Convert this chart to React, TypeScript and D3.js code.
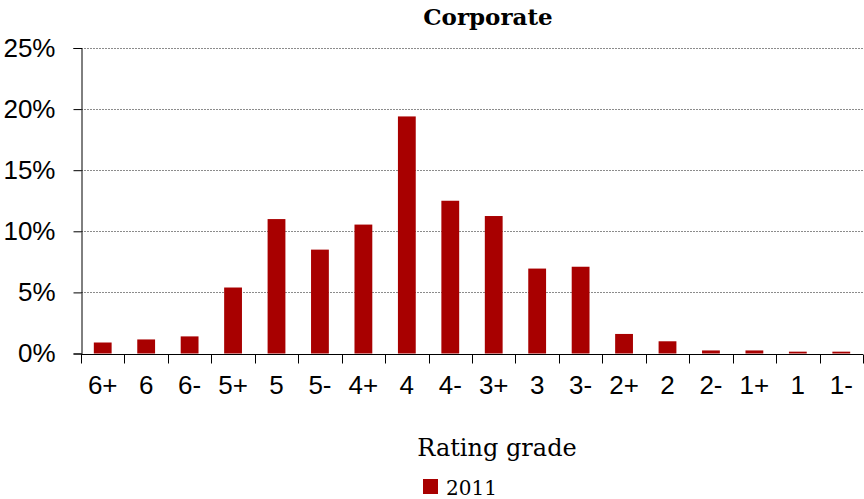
import React, { useRef, useEffect } from 'react';
import * as d3 from 'd3';

const grades = ['6+', '6', '6-', '5+', '5', '5-', '4+', '4', '4-', '3+', '3', '3-', '2+', '2', '2-', '1+', '1', '1-'];
const share2011 = [0.9, 1.15, 1.4, 5.4, 11.0, 8.5, 10.55, 19.4, 12.5, 11.25, 6.95, 7.1, 1.6, 1.0, 0.25, 0.25, 0.15, 0.15];
const yTicks = [0, 5, 10, 15, 20, 25];
const seriesName = '2011';

const App: React.FC = () => {
  const svgRef = useRef<SVGSVGElement | null>(null);

  useEffect(() => {
    const width = 864;
    const height = 499;
    const m = { left: 81, right: 1, top: 48, bottom: 145 };

    const svg = d3.select(svgRef.current!)
      .attr('width', width)
      .attr('height', height);
    svg.selectAll('*').remove();

    const x = d3.scaleBand<string>()
      .domain(grades)
      .range([m.left, width - m.right])
      .paddingInner(0.59)
      .paddingOuter(0.295);

    const y = d3.scaleLinear()
      .domain([0, 25])
      .range([height - m.bottom - 0.5, m.top]);

    // gridlines
    svg.append('g')
      .selectAll('line')
      .data(yTicks.filter((t) => t > 0))
      .enter()
      .append('line')
      .attr('x1', m.left)
      .attr('x2', width - m.right)
      .attr('y1', (d) => Math.round(y(d)) + 0.5)
      .attr('y2', (d) => Math.round(y(d)) + 0.5)
      .attr('stroke', '#8c8c8c')
      .attr('stroke-width', 1)
      .attr('stroke-dasharray', '2,1');

    // bars
    svg.append('g')
      .selectAll('rect')
      .data(share2011)
      .enter()
      .append('rect')
      .attr('x', (d, i) => x(grades[i])!)
      .attr('y', (d) => y(d))
      .attr('width', x.bandwidth())
      .attr('height', (d) => y(0) - y(d))
      .attr('fill', '#a80000');

    // y axis
    const yAxis = svg.append('g')
      .attr('transform', `translate(${m.left + 0.5},0)`)
      .call(
        d3.axisLeft(y)
          .tickValues(yTicks)
          .tickSize(8)
          .tickPadding(18)
          .tickFormat((d) => `${d}%`)
      );
    yAxis.select('.domain').attr('stroke', '#000');
    yAxis.selectAll('.tick line').attr('stroke', '#000');
    yAxis.selectAll('.tick text')
      .attr('font-family', '"Liberation Sans", Arial, sans-serif')
      .attr('font-size', 26)
      .attr('fill', '#000');

    // x axis line and ticks at category boundaries
    const baseY = Math.round(y(0)) + 0.5;
    const step = x.step();
    const xs = x.range();
    svg.append('line')
      .attr('x1', m.left)
      .attr('x2', xs[1])
      .attr('y1', baseY)
      .attr('y2', baseY)
      .attr('stroke', '#000');
    svg.append('g')
      .selectAll('line')
      .data(d3.range(grades.length + 1))
      .enter()
      .append('line')
      .attr('x1', (i) => Math.round(xs[0] + i * step) + 0.5)
      .attr('x2', (i) => Math.round(xs[0] + i * step) + 0.5)
      .attr('y1', baseY)
      .attr('y2', baseY + 9)
      .attr('stroke', '#000');

    svg.append('g')
      .selectAll('text')
      .data(grades)
      .enter()
      .append('text')
      .attr('x', (d) => x(d)! + x.bandwidth() / 2)
      .attr('y', baseY + 39)
      .attr('text-anchor', 'middle')
      .attr('font-family', '"Liberation Sans", Arial, sans-serif')
      .attr('font-size', 26)
      .text((d) => d);

    // title
    svg.append('text')
      .attr('x', 488)
      .attr('y', 25)
      .attr('text-anchor', 'middle')
      .attr('font-family', '"DejaVu Serif", serif')
      .attr('font-weight', 'bold')
      .attr('font-size', 23)
      .text('Corporate');

    // axis title
    svg.append('text')
      .attr('x', 497)
      .attr('y', 456)
      .attr('text-anchor', 'middle')
      .attr('font-family', '"DejaVu Serif", serif')
      .attr('font-size', 24)
      .text('Rating grade');

    // legend
    const lg = svg.append('g').attr('transform', 'translate(423,479)');
    lg.append('rect')
      .attr('width', 15)
      .attr('height', 15)
      .attr('fill', '#a80000');
    lg.append('text')
      .attr('x', 23)
      .attr('y', 16)
      .attr('font-family', '"DejaVu Serif", serif')
      .attr('font-size', 20)
      .text(seriesName);
  }, []);

  return <svg ref={svgRef} style={{ position: 'absolute', left: 0, top: 0, background: '#fff' }}></svg>;
};

export default App;
